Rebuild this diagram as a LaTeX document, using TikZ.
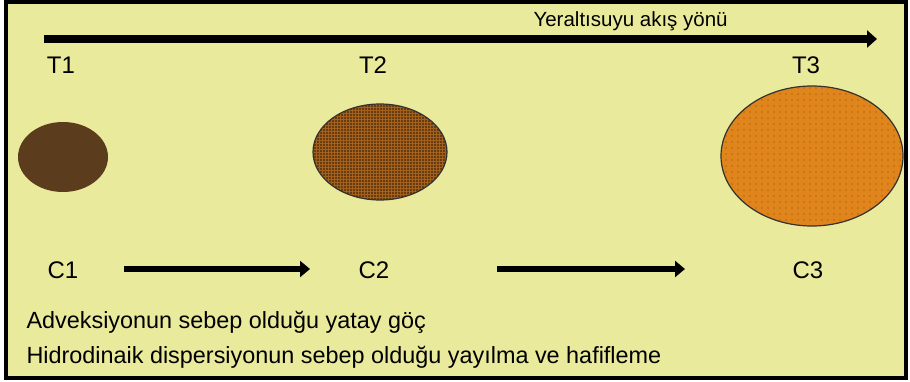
\documentclass[tikz,border=0pt]{standalone}
\usepackage{fontspec}
\setmainfont{Liberation Sans}
\usetikzlibrary{arrows.meta,shapes.geometric,patterns.meta}
\definecolor{paper}{HTML}{EAEA9C}
\definecolor{plumeA}{HTML}{5B3D1E}
\definecolor{plumeB}{HTML}{A5601C}
\definecolor{plumeC}{HTML}{E0841C}
\tikzset{
  frame/.style={line width=4pt, fill=paper},
  flow/.style={line width=8pt, -{Triangle[length=10pt,width=17pt]}},
  move/.style={line width=6pt, -{Triangle[length=10pt,width=16pt]}},
  plume/.style={ellipse, inner sep=0pt},
  lbl/.style={font=\fontsize{24}{28}\selectfont, anchor=base},
  note/.style={font=\fontsize{23.4}{27}\selectfont, anchor=base west},
}

\begin{document}
\begin{tikzpicture}[x=1pt,y=-1pt]
        \useasboundingbox (0,0) rectangle (910,382);
        % frame
        \draw[frame] (6,2.5) rectangle (906,378);

        % groundwater flow direction
        \coordinate (flowstart) at (44,39);
        \coordinate (flowend) at (877,39);
        \draw[flow] (flowstart) -- (flowend);
        \node[anchor=base west, font=\fontsize{20.5}{24}\selectfont] (flowlbl) at (530,27) {Yeraltısuyu akış yönü};

        % time labels
        \foreach \n/\x in {1/61,2/373,3/806}{
          \node[lbl] (t\n) at (\x,74) {T\n};
        }

        % plumes
        \node[plume, fill=plumeA, minimum width=90, minimum height=70] (p1) at (63,157) {};
        \node[plume, draw=black!80, line width=1.2pt, minimum width=134, minimum height=96,
              preaction={fill=plumeB}, pattern={Dots[distance=3pt,radius=0.8pt]}, pattern color=black!75!plumeB] (p2) at (380,152) {};
        \node[plume, draw=black!80, line width=1.2pt, minimum width=182, minimum height=140,
              preaction={fill=plumeC}, pattern={Dots[distance=6pt,radius=0.7pt]}, pattern color=black!45!plumeC] (p3) at (812,156) {};

        % concentration labels
        \foreach \n/\x in {1/63,2/374,3/808}{
          \node[lbl] (c\n) at (\x,278) {C\n};
        }

        % advection arrows
        \coordinate (m1s) at (124,269);
        \coordinate (m1e) at (310,269);
        \coordinate (m2s) at (497,269);
        \coordinate (m2e) at (685,269);
        \draw[move] (m1s) -- (m1e);
        \draw[move] (m2s) -- (m2e);

        % notes
        \node[note] (n1) at (23,328) {Adveksiyonun sebep olduğu yatay göç};
        \node[note] (n2) at (23,363) {Hidrodinaik dispersiyonun sebep olduğu yayılma ve hafifleme};
    \end{tikzpicture}
\end{document}
